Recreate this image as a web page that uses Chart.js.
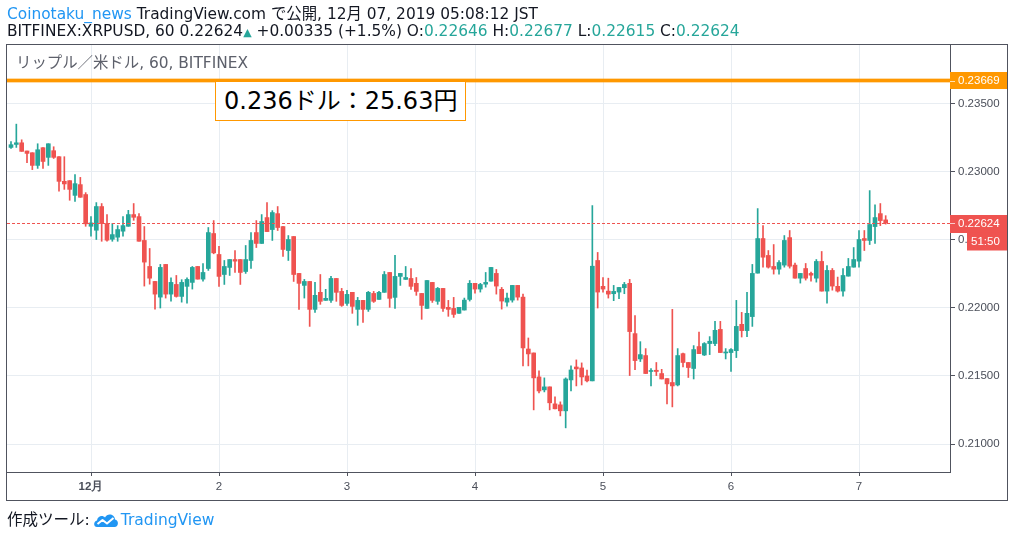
<!DOCTYPE html>
<html>
<head>
<meta charset="utf-8">
<script src="https://cdn.jsdelivr.net/npm/chart.js@4.4.1/dist/chart.umd.min.js"></script>
<style>
  html, body { margin: 0; padding: 0; background: #ffffff; }
  #wrap { position: relative; width: 1014px; height: 537px; overflow: hidden; background: #fff; }
  #c { position: absolute; left: 0; top: 0; }
  .txt { position: absolute; white-space: nowrap; font-family: "DejaVu Sans", "Noto Sans CJK JP", sans-serif; color: #131722; }
  #h1 { left: 7px; top: 6px; font-size: 15.4px; line-height: 17px; }
  #h2 { left: 7px; top: 23px; font-size: 15.4px; line-height: 17px; }
  .blue { color: #2196f3; }
  .teal { color: #26a69a; }
  #sym { left: 16px; top: 54px; font-size: 15.4px; line-height: 18px; color: #5d606b; }
  #note { left: 215px; top: 81px; width: 241px; height: 38px; border: 1.5px solid #ff9800; background: #fff;
          font-family: "DejaVu Sans", "Noto Sans CJK JP", sans-serif; font-size: 24px; line-height: 38px; color: #000; padding-left: 8px; box-sizing: content-box; }
  #foot { left: 7px; top: 510px; font-size: 15.5px; line-height: 20px; display: flex; align-items: center; }
  #foot svg { margin: 0 2px 0 3px; }
</style>
</head>
<body>
<div id="wrap">
  <canvas id="c" width="1014" height="537"></canvas>
  <div class="txt" id="h1"><span class="blue">Coinotaku_news</span> TradingView.com で公開, 12月 07, 2019 05:08:12 JST</div>
  <div class="txt" id="h2">BITFINEX:XRPUSD, 60 0.22624<span class="teal" style="font-size:11px">▲</span> +0.00335 (+1.5%) O:<span class="teal">0.22646</span> H:<span class="teal">0.22677</span> L:<span class="teal">0.22615</span> C:<span class="teal">0.22624</span></div>
  <div class="txt" id="sym">リップル／米ドル, 60, BITFINEX</div>
  <div class="txt" id="note">0.236ドル：25.63円</div>
  <div class="txt" id="foot">作成ツール:<svg width="26" height="16" viewBox="0 0 26 16"><path d="M4 15 C0.5 15 0 9.5 4 8.5 C4.5 4 9.5 2.5 12 5.5 C14 1 21.5 1.5 22 7.5 C26 8 26 15 21.5 15 Z" fill="#2196f3"/><path d="M4.5 12 L9.5 8 L14 11.5 L20.5 6" stroke="#fff" stroke-width="2" fill="none" stroke-linejoin="round"/></svg><span class="blue">TradingView</span></div>
</div>
<script>
// ---- data: hourly candles, BITFINEX:XRPUSD 60, first candle = Nov 30 09:00 (hour -15 relative to Dec 1 00:00)
const firstHour = -15;
const open = [
0.23178,0.23200,0.23212,0.23152,0.23139,0.23046,0.23176,0.23105,0.23154,0.23110,
0.22929,0.22934,0.22826,0.22905,0.22832,0.22599,0.22570,0.22744,0.22619,0.22504,
0.22519,0.22563,0.22599,0.22685,0.22670,0.22495,0.22304,0.22194,0.22079,0.22319,
0.22101,0.22172,0.22084,0.22158,0.22187,0.22304,0.22211,0.22289,0.22546,0.22392,
0.22245,0.22297,0.22355,0.22355,0.22267,0.22348,0.22553,0.22473,0.22663,0.22575,
0.22692,0.22597,0.22421,0.22524,0.22253,0.22165,0.22194,0.21989,0.22114,0.22055,
0.22055,0.22216,0.22121,0.22033,0.22114,0.21989,0.22055,0.21989,0.22106,0.22062,
0.22114,0.22260,0.22077,0.22231,0.22209,0.22216,0.22180,0.22106,0.21996,0.22187,
0.22048,0.22143,0.22004,0.21996,0.21960,0.21984,0.22062,0.22180,0.22138,0.22174,
0.22196,0.22253,0.22136,0.22042,0.22057,0.22165,0.22079,0.21698,0.21669,0.21493,
0.21398,0.21420,0.21295,0.21288,0.21244,0.21471,0.21566,0.21559,0.21500,0.21464,
0.22348,0.22158,0.22123,0.22104,0.22116,0.22148,0.22180,0.21811,0.21625,0.21650,
0.21533,0.21542,0.21518,0.21481,0.21452,0.21434,0.21664,0.21599,0.21555,0.21716,
0.21654,0.21738,0.21738,0.21842,0.21669,0.21672,0.21686,0.21879,0.21833,0.21936,
0.22255,0.22509,0.22385,0.22304,0.22284,0.22314,0.22516,0.22314,0.22218,0.22289,
0.22253,0.22218,0.22341,0.22123,0.22275,0.22158,0.22123,0.22233,0.22299,0.22343,
0.22509,0.22495,0.22597,0.22692,0.22646];
const high = [
0.23220,0.23349,0.23234,0.23152,0.23139,0.23205,0.23176,0.23205,0.23183,0.23110,
0.23110,0.22934,0.22978,0.22958,0.22846,0.22670,0.22773,0.22766,0.22685,0.22619,
0.22604,0.22670,0.22716,0.22766,0.22692,0.22597,0.22436,0.22194,0.22319,0.22319,
0.22221,0.22238,0.22207,0.22221,0.22304,0.22304,0.22326,0.22590,0.22641,0.22451,
0.22348,0.22355,0.22421,0.22355,0.22458,0.22553,0.22641,0.22685,0.22773,0.22714,
0.22744,0.22597,0.22531,0.22524,0.22253,0.22209,0.22194,0.22187,0.22245,0.22136,
0.22231,0.22216,0.22143,0.22128,0.22114,0.22077,0.22055,0.22121,0.22121,0.22121,
0.22267,0.22260,0.22385,0.22253,0.22304,0.22289,0.22223,0.22106,0.22201,0.22187,
0.22150,0.22143,0.22055,0.22077,0.22004,0.22072,0.22201,0.22180,0.22180,0.22260,
0.22297,0.22282,0.22150,0.22108,0.22165,0.22165,0.22101,0.21779,0.21669,0.21537,
0.21486,0.21420,0.21347,0.21310,0.21486,0.21574,0.21618,0.21596,0.21544,0.22751,
0.22407,0.22223,0.22218,0.22165,0.22150,0.22187,0.22209,0.21943,0.21752,0.21701,
0.21555,0.21599,0.21549,0.21481,0.21989,0.21701,0.21669,0.21599,0.21723,0.21823,
0.21745,0.21789,0.21901,0.21901,0.21701,0.21701,0.22055,0.21967,0.22114,0.22319,
0.22729,0.22604,0.22421,0.22465,0.22348,0.22531,0.22568,0.22328,0.22253,0.22326,
0.22262,0.22355,0.22414,0.22311,0.22289,0.22226,0.22289,0.22363,0.22443,0.22568,
0.22568,0.22861,0.22756,0.22766,0.22677];
const low = [
0.23171,0.23178,0.23149,0.23066,0.23015,0.23024,0.23024,0.23046,0.23097,0.22856,
0.22870,0.22790,0.22782,0.22812,0.22599,0.22526,0.22502,0.22489,0.22489,0.22489,
0.22489,0.22526,0.22599,0.22643,0.22489,0.22160,0.22174,0.21991,0.21999,0.22072,
0.22050,0.22079,0.22042,0.22035,0.22138,0.22211,0.22196,0.22275,0.22397,0.22158,
0.22172,0.22238,0.22260,0.22172,0.22253,0.22289,0.22443,0.22473,0.22560,0.22495,
0.22568,0.22377,0.22348,0.22194,0.21989,0.22072,0.21864,0.21967,0.22026,0.22055,
0.22040,0.22048,0.22011,0.22018,0.21960,0.21872,0.21894,0.21974,0.22040,0.22062,
0.22114,0.22004,0.21996,0.22165,0.22209,0.22136,0.22092,0.21916,0.21996,0.22040,
0.22026,0.21974,0.21938,0.21930,0.21960,0.21984,0.22050,0.22108,0.22116,0.22152,
0.22196,0.22101,0.21991,0.22013,0.22042,0.22057,0.21574,0.21574,0.21251,0.21376,
0.21383,0.21251,0.21259,0.21207,0.21119,0.21390,0.21427,0.21434,0.21456,0.21464,
0.21999,0.22116,0.22072,0.22053,0.22067,0.22104,0.21503,0.21547,0.21606,0.21518,
0.21427,0.21503,0.21478,0.21295,0.21273,0.21427,0.21566,0.21489,0.21478,0.21664,
0.21650,0.21657,0.21723,0.21672,0.21625,0.21533,0.21635,0.21786,0.21789,0.21864,
0.22255,0.22299,0.22292,0.22248,0.22248,0.22299,0.22292,0.22218,0.22182,0.22204,
0.22196,0.22189,0.22123,0.22035,0.22130,0.22116,0.22086,0.22233,0.22299,0.22299,
0.22421,0.22465,0.22473,0.22604,0.22615];
const close = [
0.23198,0.23212,0.23149,0.23134,0.23046,0.23161,0.23075,0.23205,0.23105,0.22929,
0.22910,0.22870,0.22912,0.22812,0.22617,0.22624,0.22744,0.22619,0.22497,0.22538,
0.22575,0.22604,0.22685,0.22665,0.22489,0.22336,0.22218,0.22101,0.22297,0.22101,
0.22187,0.22084,0.22187,0.22209,0.22297,0.22211,0.22260,0.22553,0.22404,0.22231,
0.22304,0.22355,0.22343,0.22260,0.22355,0.22495,0.22473,0.22634,0.22560,0.22700,
0.22590,0.22429,0.22502,0.22245,0.22180,0.22194,0.21989,0.22092,0.22048,0.22070,
0.22216,0.22114,0.22018,0.22099,0.22011,0.22055,0.21989,0.22114,0.22048,0.22114,
0.22245,0.22070,0.22231,0.22253,0.22223,0.22158,0.22121,0.22018,0.22201,0.22055,
0.22143,0.21996,0.21989,0.21952,0.22004,0.22057,0.22180,0.22138,0.22172,0.22187,
0.22297,0.22160,0.22050,0.22072,0.22165,0.22079,0.21706,0.21662,0.21486,0.21390,
0.21420,0.21303,0.21259,0.21244,0.21478,0.21544,0.21552,0.21493,0.21464,0.22306,
0.22116,0.22138,0.22101,0.22121,0.22150,0.22172,0.21826,0.21613,0.21657,0.21518,
0.21540,0.21533,0.21478,0.21442,0.21427,0.21650,0.21599,0.21562,0.21694,0.21664,
0.21738,0.21755,0.21835,0.21672,0.21676,0.21694,0.21864,0.21833,0.21960,0.22253,
0.22509,0.22372,0.22299,0.22284,0.22333,0.22495,0.22306,0.22218,0.22253,0.22218,
0.22240,0.22341,0.22123,0.22275,0.22160,0.22123,0.22238,0.22304,0.22355,0.22502,
0.22495,0.22612,0.22663,0.22641,0.22624];
const dayTicks = [0, 24, 48, 72, 96, 120, 144];
const dayLabels = ['12月', '2', '3', '4', '5', '6', '7'];
const priceTicks = [0.210, 0.215, 0.220, 0.225, 0.230, 0.235];
const levelPrice = 0.23669;
const countdown = '51:50';

const GREEN = '#26a69a', RED = '#ef5350', ORANGE = '#ff9800';
const AXIS = '#50535e', GRID = '#e8edf2', LABEL = '#4a4e59';
const FONT = '"Liberation Sans", Arial, sans-serif';

const hours = open.map((_, i) => firstHour + i);
const colors = close.map((c, i) => c >= open[i] ? GREEN : RED);
const wickData = hours.map((h, i) => ({ x: h, y: [low[i], high[i]] }));
const bodyData = hours.map((h, i) => ({ x: h, y: [open[i], close[i]] }));

const overlay = {
  id: 'overlay',
  afterDatasetsDraw(chart) {
    const { ctx, chartArea: a, scales: { y } } = chart;
    ctx.save();
    // last price dotted line
    const yc = Math.round(y.getPixelForValue(close[close.length - 1])) + 0.5;
    ctx.strokeStyle = RED; ctx.lineWidth = 1; ctx.setLineDash([3, 2]);
    ctx.beginPath(); ctx.moveTo(a.left, yc); ctx.lineTo(a.right, yc); ctx.stroke();
    ctx.setLineDash([]);
    // horizontal level line
    const yo = y.getPixelForValue(levelPrice);
    ctx.strokeStyle = 'rgba(255,152,0,0.35)'; ctx.lineWidth = 5;
    ctx.beginPath(); ctx.moveTo(a.left, yo); ctx.lineTo(a.right, yo); ctx.stroke();
    ctx.strokeStyle = ORANGE; ctx.lineWidth = 3;
    ctx.beginPath(); ctx.moveTo(a.left, yo); ctx.lineTo(a.right, yo); ctx.stroke();
    ctx.restore();
  },
  afterDraw(chart) {
    const { ctx, chartArea: a, scales: { y } } = chart;
    const axW = 58;
    ctx.save();
    ctx.font = '11.5px ' + FONT;
    ctx.textBaseline = 'middle';
    const tag = (color, x0, yMid, w, h, text) => {
      ctx.fillStyle = color;
      ctx.fillRect(x0, Math.round(yMid - h / 2), w, h);
      ctx.fillStyle = '#ffffff';
      ctx.fillText(text, x0 + 8, yMid + 0.5);
    };
    const yo = y.getPixelForValue(levelPrice);
    tag(ORANGE, a.right, yo, axW, 17, levelPrice.toFixed(5));
    ctx.strokeStyle = 'rgba(255,255,255,0.7)'; ctx.lineWidth = 1;
    ctx.beginPath(); ctx.moveTo(a.right, Math.round(yo) + 0.5); ctx.lineTo(a.right + 5, Math.round(yo) + 0.5); ctx.stroke();
    const last = close[close.length - 1];
    const yc = Math.round(y.getPixelForValue(last)) + 0.5;
    tag(RED, a.right, yc, axW, 18, last.toFixed(5));
    ctx.beginPath(); ctx.moveTo(a.right, yc); ctx.lineTo(a.right + 5, yc); ctx.stroke();
    ctx.fillStyle = RED;
    ctx.fillRect(a.right + 17, yc + 9, axW - 17, 18);
    ctx.fillStyle = '#ffffff';
    ctx.fillText(countdown, a.right + 21, yc + 18.5);
    // outer frame
    ctx.strokeStyle = AXIS; ctx.lineWidth = 1;
    ctx.strokeRect(6.5, 44.5, 1001, 456);
    ctx.restore();
  }
};

new Chart(document.getElementById('c'), {
  type: 'bar',
  data: {
    datasets: [
      { label: 'wick', data: wickData, backgroundColor: colors, barThickness: 1, grouped: false, minBarLength: 1, borderWidth: 0, order: 2 },
      { label: 'body', data: bodyData, backgroundColor: colors, barThickness: 4, grouped: false, minBarLength: 1, borderWidth: 0, order: 1 }
    ]
  },
  options: {
    responsive: false,
    animation: false,
    events: [],
    layout: { padding: { left: 7, right: 6, top: 45, bottom: 37 } },
    plugins: { legend: { display: false }, tooltip: { enabled: false } },
    scales: {
      x: {
        type: 'linear', min: -15.75, max: 161.06, offset: false,
        afterBuildTicks: s => { s.ticks = dayTicks.map(v => ({ value: v })); },
        afterFit: s => { s.height = 28; },
        grid: { color: GRID, tickColor: AXIS, tickLength: 4, offset: false, drawTicks: true },
        border: { display: true, color: AXIS },
        ticks: {
          autoSkip: false, maxRotation: 0, padding: 4, color: LABEL,
          callback: (v) => { const k = dayTicks.indexOf(v); return k >= 0 ? dayLabels[k] : ''; },
          font: (c) => ({ family: FONT, size: 11.5, weight: (c.tick && c.tick.value === 0) ? 'bold' : 'normal' })
        }
      },
      y: {
        type: 'linear', position: 'right', min: 0.20795, max: 0.23930,
        afterBuildTicks: s => { s.ticks = priceTicks.map(v => ({ value: v })); },
        afterFit: s => { s.width = 58; },
        grid: { color: GRID, tickColor: AXIS, tickLength: 5, drawTicks: true },
        border: { display: true, color: AXIS },
        ticks: {
          padding: 3, color: LABEL, font: { family: FONT, size: 11.5 },
          callback: (v) => Number(v).toFixed(5)
        }
      }
    }
  },
  plugins: [overlay]
});
</script>
</body>
</html>
